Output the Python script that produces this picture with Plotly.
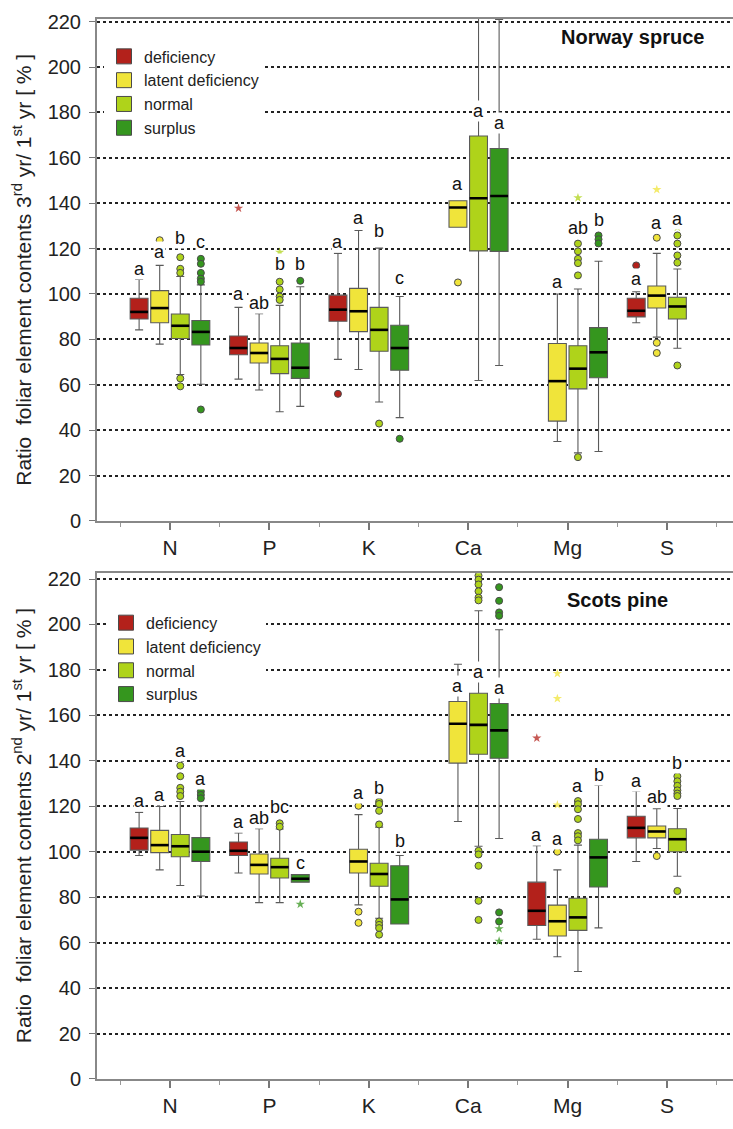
import plotly.graph_objects as go

FONT = "Liberation Sans, Arial, sans-serif"

categories = ["N", "P", "K", "Ca", "Mg", "S"]
groups = ["deficiency", "latent deficiency", "normal", "surplus"]
group_colors = ["#B3211B", "#F0E43A", "#AFD31A", "#35961E"]
y_ticks = [0, 20, 40, 60, 80, 100, 120, 140, 160, 180, 200, 220]

# ---------------- Norway spruce: 3rd yr / 1st yr ----------------
spruce_q1 = [
    [89.0, 73.2, 88.0, None, None, 89.9],
    [87.3, 69.6, 83.4, 129.4, 44.0, 93.8],
    [80.4, 64.9, 74.8, 119.0, 58.2, 89.0],
    [77.5, 62.8, 66.4, 118.8, 63.1, None],
]
spruce_median = [
    [92.1, 76.2, 93.1, None, None, 92.6],
    [93.8, 74.0, 92.4, 138.1, 61.6, 99.3],
    [86.0, 71.4, 84.2, 142.2, 67.1, 94.5],
    [83.3, 67.5, 76.2, 143.2, 74.3, None],
]
spruce_q3 = [
    [98.1, 81.5, 99.5, None, None, 98.1],
    [101.5, 78.4, 102.5, 141.1, 78.2, 103.5],
    [91.2, 77.2, 94.1, 169.6, 77.2, 98.6],
    [88.3, 78.4, 86.2, 164.1, 85.2, None],
]
spruce_low = [
    [84.2, 62.5, 71.2, None, None, 87.3],
    [77.9, 57.7, 66.7, 129.4, 35.0, 81.0],
    [64.5, 48.1, 52.4, 61.9, 30.0, 76.1],
    [60.2, 50.5, 45.5, 68.5, 30.6, None],
]
spruce_high = [
    [106.4, 94.1, 117.9, None, None, 101.0],
    [112.6, 91.3, 128.0, 141.1, 100.0, 117.9],
    [107.7, 95.0, 120.2, 240.0, 102.2, 111.0],
    [104.0, 103.2, 98.9, 221.0, 114.4, None],
]
spruce_outliers = [
    ("N", 1, 123.7),
    ("N", 2, 116.2), ("N", 2, 111.1), ("N", 2, 109.3), ("N", 2, 62.8), ("N", 2, 59.3),
    ("N", 3, 115.5), ("N", 3, 113.3), ("N", 3, 109.3), ("N", 3, 106.8), ("N", 3, 105.4), ("N", 3, 49.1),
    ("P", 2, 105.4), ("P", 2, 102.0), ("P", 2, 98.9), ("P", 2, 97.4),
    ("P", 3, 105.8),
    ("K", 0, 56.0), ("K", 2, 42.9), ("K", 3, 36.2),
    ("Ca", 1, 105.1),
    ("Mg", 2, 122.2), ("Mg", 2, 118.8), ("Mg", 2, 115.5), ("Mg", 2, 113.6), ("Mg", 2, 108.2), ("Mg", 2, 28.1),
    ("Mg", 3, 125.8), ("Mg", 3, 124.1), ("Mg", 3, 122.3),
    ("S", 0, 112.6),
    ("S", 1, 124.8), ("S", 1, 78.5), ("S", 1, 74.0),
    ("S", 2, 125.8), ("S", 2, 122.2), ("S", 2, 117.0), ("S", 2, 113.8), ("S", 2, 68.5),
]
spruce_extremes = [
    ("P", 0, 137.8), ("P", 2, 118.4), ("Mg", 2, 142.4), ("S", 1, 146.0), ("S", 2, 129.4),
]
spruce_letters = [
    ["a", "a", "a", "", "", "a"],
    ["a", "ab", "a", "a", "a", "a"],
    ["b", "b", "b", "a", "ab", "a"],
    ["c", "b", "c", "a", "b", ""],
]
spruce_letter_y = [
    [111.1, 100.0, 123.1, None, None, 106.4],
    [118.4, 96.0, 133.5, 148.4, 105.4, 131.3],
    [124.8, 113.3, 127.7, 180.8, 128.9, 133.2],
    [123.1, 113.3, 107.0, 175.3, 132.5, None],
]

# ---------------- Scots pine: 2nd yr / 1st yr ----------------
pine_q1 = [
    [100.7, 98.3, None, None, 67.5, 106.1],
    [99.6, 90.2, 90.6, 139.0, 62.9, 106.1],
    [97.8, 88.4, 84.8, 142.9, 65.4, 100.0],
    [95.7, 86.6, 68.2, 141.1, 84.5, None],
]
pine_median = [
    [106.1, 100.4, None, None, 74.0, 110.5],
    [102.9, 94.2, 95.7, 156.3, 69.4, 108.9],
    [102.4, 93.2, 90.2, 155.8, 71.1, 105.5],
    [100.0, 88.1, 79.0, 153.4, 97.5, None],
]
pine_q3 = [
    [110.4, 104.3, None, None, 86.6, 115.6],
    [109.4, 99.0, 101.1, 166.1, 76.5, 111.3],
    [107.6, 97.1, 94.9, 169.7, 79.5, 110.1],
    [106.2, 89.9, 93.8, 165.2, 105.5, None],
]
pine_low = [
    [98.3, 90.6, None, None, 61.5, 95.7],
    [92.0, 77.6, 76.6, 113.3, 53.8, 101.4],
    [85.1, 77.6, 70.7, 102.4, 47.3, 89.2],
    [80.5, 86.6, 68.2, 105.8, 66.5, None],
]
pine_high = [
    [117.3, 108.2, None, None, 102.6, 126.7],
    [119.9, 110.1, 116.3, 182.5, 92.0, 118.9],
    [122.1, 110.0, 110.8, 206.0, 102.9, 119.0],
    [120.2, 89.9, 98.3, 197.7, 129.3, None],
]
pine_outliers = [
    ("N", 2, 137.9), ("N", 2, 133.2), ("N", 2, 128.1), ("N", 2, 126.4), ("N", 2, 124.5),
    ("N", 3, 126.5), ("N", 3, 125.0), ("N", 3, 123.5),
    ("P", 2, 112.5), ("P", 2, 111.0),
    ("K", 1, 120.2), ("K", 1, 73.6), ("K", 1, 68.7),
    ("K", 2, 122.0), ("K", 2, 121.0), ("K", 2, 118.0), ("K", 2, 112.0),
    ("K", 2, 69.3), ("K", 2, 67.8), ("K", 2, 66.4), ("K", 2, 63.5),
    ("Ca", 2, 221.5), ("Ca", 2, 219.7), ("Ca", 2, 217.6), ("Ca", 2, 214.6), ("Ca", 2, 211.8), ("Ca", 2, 210.6),
    ("Ca", 2, 100.4), ("Ca", 2, 98.8), ("Ca", 2, 93.8), ("Ca", 2, 78.4), ("Ca", 2, 70.0),
    ("Ca", 3, 216.4), ("Ca", 3, 210.4), ("Ca", 3, 205.3), ("Ca", 3, 203.8), ("Ca", 3, 73.3), ("Ca", 3, 69.3),
    ("Mg", 1, 100.0),
    ("Mg", 2, 122.3), ("Mg", 2, 120.9), ("Mg", 2, 118.7), ("Mg", 2, 114.4), ("Mg", 2, 108.2), ("Mg", 2, 106.8), ("Mg", 2, 105.0),
    ("S", 1, 98.1),
    ("S", 2, 133.2), ("S", 2, 131.0), ("S", 2, 129.0), ("S", 2, 127.0), ("S", 2, 125.6), ("S", 2, 124.5), ("S", 2, 82.7),
]
pine_extremes = [
    ("P", 3, 76.9), ("Ca", 3, 66.1), ("Ca", 3, 60.6),
    ("Mg", 0, 150.0), ("Mg", 1, 178.4), ("Mg", 1, 167.4), ("Mg", 1, 120.6),
]
pine_letters = [
    ["a", "a", "", "", "a", "a"],
    ["a", "ab", "a", "a", "a", "ab"],
    ["a", "bc", "b", "a", "a", "b"],
    ["a", "c", "b", "a", "b", ""],
]
pine_letter_y = [
    [122.2, 113.0, None, None, 107.2, 131.3],
    [124.9, 114.8, 126.0, 172.9, 105.5, 124.1],
    [144.4, 119.5, 128.1, 178.9, 128.8, 139.0],
    [132.0, 95.2, 104.8, 172.1, 133.9, None],
]

# ---------------- layout geometry ----------------
W, H = 733, 1129
GROUP_STEP = 0.207
BOX_W = 0.18
offsets = [(g - 1.5) * GROUP_STEP for g in range(len(groups))]
x_range = [0.266, 6.663]

fig = go.Figure()
annotations = []


def pos(cat, g):
    return categories.index(cat) + 1 + offsets[g]


def add_panel(suffix, q1, med, q3, low, high, outl, extr, letters, letter_y, legend_name):
    xa, ya = "x" + suffix, "y" + suffix
    for g, gname in enumerate(groups):
        idx = [i for i in range(len(categories)) if q1[g][i] is not None]
        xs = [i + 1 + offsets[g] for i in idx]
        fig.add_trace(go.Box(
            x=xs, q1=[q1[g][i] for i in idx], median=[med[g][i] for i in idx],
            q3=[q3[g][i] for i in idx], lowerfence=[low[g][i] for i in idx],
            upperfence=[high[g][i] for i in idx], orientation="v",
            width=BOX_W, whiskerwidth=0.45, boxpoints=False,
            fillcolor=group_colors[g], line=dict(color="#5a5a5a", width=1.1),
            showlegend=False, hoverinfo="skip", xaxis=xa, yaxis=ya,
        ))
        mx, my = [], []
        for i, x in zip(idx, xs):
            mx += [x - BOX_W / 2, x + BOX_W / 2, None]
            my += [med[g][i], med[g][i], None]
        fig.add_trace(go.Scatter(x=mx, y=my, mode="lines", line=dict(color="black", width=2.6),
                                 showlegend=False, hoverinfo="skip", xaxis=xa, yaxis=ya))
        ox = [pos(c, gg) for c, gg, v in outl if gg == g]
        oy = [v for c, gg, v in outl if gg == g]
        if ox:
            fig.add_trace(go.Scatter(x=ox, y=oy, mode="markers",
                                     marker=dict(symbol="circle", size=7, color=group_colors[g],
                                                 line=dict(color="#4a4a4a", width=1)),
                                     showlegend=False, hoverinfo="skip", xaxis=xa, yaxis=ya))
        ex = [pos(c, gg) for c, gg, v in extr if gg == g]
        ey = [v for c, gg, v in extr if gg == g]
        if ex:
            fig.add_trace(go.Scatter(x=ex, y=ey, mode="markers",
                                     marker=dict(symbol="star", size=7, color=group_colors[g], opacity=0.75),
                                     showlegend=False, hoverinfo="skip", xaxis=xa, yaxis=ya))
        # legend entry
        fig.add_trace(go.Scatter(x=[None], y=[None], mode="markers", name=gname,
                                 marker=dict(symbol="square", size=15, color=group_colors[g],
                                             line=dict(color="#4a4a4a", width=1)),
                                 legend=legend_name, xaxis=xa, yaxis=ya))
        for i in range(len(categories)):
            if letters[g][i]:
                annotations.append(dict(
                    x=i + 1 + offsets[g], y=letter_y[g][i], xref=xa, yref=ya,
                    text=letters[g][i], showarrow=False, bgcolor="white", borderpad=0,
                    font=dict(family=FONT, size=18, color="#111"),
                    xanchor="center", yanchor="middle"))


add_panel("", spruce_q1, spruce_median, spruce_q3, spruce_low, spruce_high,
          spruce_outliers, spruce_extremes, spruce_letters, spruce_letter_y, "legend")
add_panel("2", pine_q1, pine_median, pine_q3, pine_low, pine_high,
          pine_outliers, pine_extremes, pine_letters, pine_letter_y, "legend2")

x_left = 97 / W
top_dom = [1 - 521.7 / H, 1 - 10.7 / H]
bot_dom = [1 - 1089.3 / H, 1 - 575 / H]

xaxis_common = dict(
    range=x_range, tickmode="array", tickvals=list(range(1, len(categories) + 1)), ticktext=categories,
    ticks="outside", ticklen=7, tickwidth=1.5, tickcolor="#777", showgrid=False, zeroline=False,
    showline=True, linecolor="#888", linewidth=2, mirror=True,
    minor=dict(tickmode="array", tickvals=[i + 0.5 for i in range(len(categories) + 1)],
               ticks="outside", ticklen=4, tickcolor="#999", tickwidth=1.2),
    tickfont=dict(family=FONT, size=21, color="#222"), domain=[x_left, 1],
)
yaxis_common = dict(
    tickmode="array", tickvals=y_ticks, ticks="outside", ticklen=6, tickcolor="#777",
    showgrid=True, gridcolor="#222", griddash="dot", gridwidth=1.6, zeroline=False,
    showline=True, linecolor="#888", linewidth=2,
    tickfont=dict(family=FONT, size=20, color="#222"), ticklabelstandoff=4,
)

annotations += [
    dict(x=632 / W, y=1 - 30 / H, xref="paper", yref="paper", text="<b>Norway spruce</b>",
         showarrow=False, font=dict(family=FONT, size=20, color="#111"), xanchor="center", yanchor="middle"),
    dict(x=617 / W, y=1 - 602 / H, xref="paper", yref="paper", text="<b>Scots pine</b>",
         showarrow=False, font=dict(family=FONT, size=20, color="#111"), xanchor="center", yanchor="middle"),
    dict(x=22 / W, y=sum(top_dom) / 2, xref="paper", yref="paper", textangle=-90,
         text="Ratio\u00a0 foliar element contents 3<sup>rd</sup> yr/ 1<sup>st</sup> yr [ % ]",
         showarrow=False, font=dict(family=FONT, size=21, color="#222"), xanchor="center", yanchor="middle"),
    dict(x=22 / W, y=sum(bot_dom) / 2, xref="paper", yref="paper", textangle=-90,
         text="Ratio\u00a0 foliar element contents 2<sup>nd</sup> yr/ 1<sup>st</sup> yr [ % ]",
         showarrow=False, font=dict(family=FONT, size=21, color="#222"), xanchor="center", yanchor="middle"),
]

legend_common = dict(xanchor="left", yanchor="top", bgcolor="white", borderwidth=0,
                     font=dict(family=FONT, size=16, color="#222"), tracegroupgap=0, traceorder="normal")

fig.update_layout(
    width=W, height=H, margin=dict(l=0, r=0, t=0, b=0),
    paper_bgcolor="white", plot_bgcolor="white", boxmode="overlay",
    xaxis=dict(xaxis_common, anchor="y"),
    yaxis=dict(yaxis_common, range=[0, 221.4], domain=top_dom, anchor="x"),
    xaxis2=dict(xaxis_common, anchor="y2"),
    yaxis2=dict(yaxis_common, range=[0, 222.5], domain=bot_dom, anchor="x2"),
    legend=dict(legend_common, x=104 / W, y=1 - 32 / H),
    legend2=dict(legend_common, x=106 / W, y=1 - 608 / H),
    annotations=annotations,
    showlegend=True,
)

fig.write_html("out.html")
